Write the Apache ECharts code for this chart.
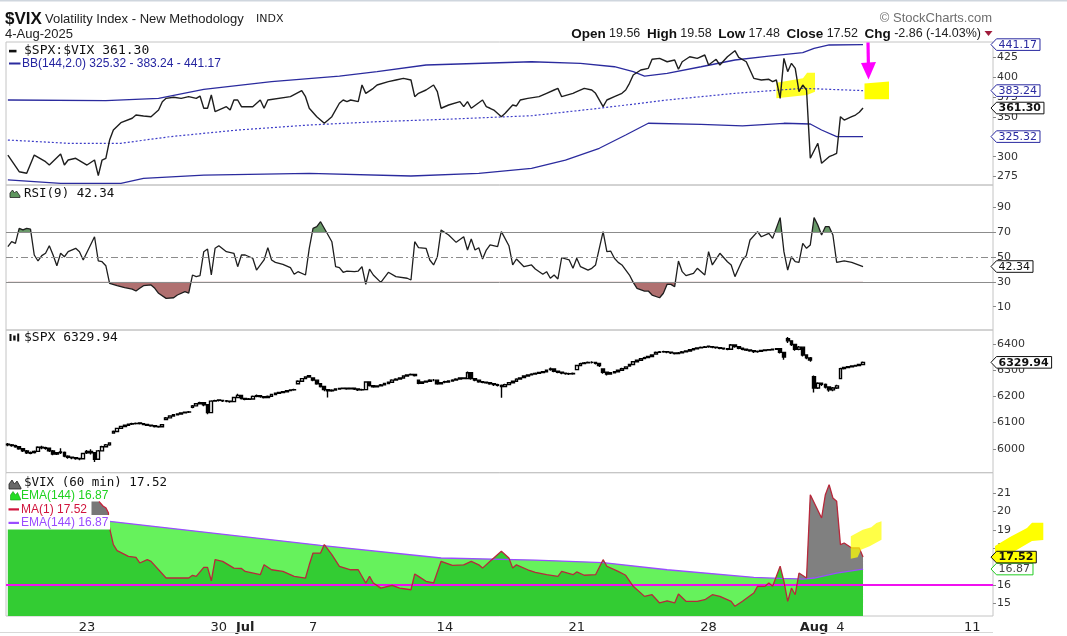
<!DOCTYPE html>
<html><head><meta charset="utf-8">
<script src="https://cdn.jsdelivr.net/npm/echarts@6/dist/echarts.min.js"></script>
<style>html,body{margin:0;padding:0;background:#fff;}#c{width:1067px;height:636px;}</style>
</head><body><div id="c"></div>
<script>
// ---------------- DATA ----------------
const days = ['6/17','6/18','6/20','6/23','6/24','6/25','6/26','6/27','6/30','7/1','7/2','7/3','7/7','7/8','7/9','7/10','7/11','7/14','7/15','7/16','7/17','7/18','7/21','7/22','7/23','7/24','7/25','7/28','7/29','7/30','7/31','8/1','8/4','8/5','8/6','8/7','8/8','8/11'];
const hours = ['09:30','10:30','11:30','12:30','13:30','14:30','15:30'];
const barsOnDay = {'7/3':4,'8/11':6};
const xTickIdx = [21,56,63,81,116,151,186,214,221,256];
const xTickText = ['23','30','Jul','7','14','21','28','Aug','4','11'];
const xTickBold = ['Jul','Aug'];

const ratioTicks = [275,300,325,350,375,400,425];
const rsiTicks = [10,30,50,70,90];
const spxTicks = [6000,6100,6200,6300,6400];
const vixTicks = [15,16,17,18,19,20,21];

// $SPX:$VIX  [bar index, value]
const ratio = [[0,302.1],[3,281.1],[5,279.1],[7,302.1],[10,293.7],[11,289.5],[14,303.4],[15,289.5],[16,295.8],[18,298.0],[21,289.5],[23,295.8],[24,276.1],[25,295.8],[26,298.0],[27,321.0],[28,333.6],[30,342.8],[33,348.4],[34,352.5],[36,351.3],[38,350.4],[40,358.8],[41,369.3],[42,373.5],[44,374.8],[46,373.5],[48,375.6],[50,373.5],[51,376.4],[52,361.0],[53,361.0],[54,377.7],[55,356.7],[58,363.0],[59,358.8],[60,371.4],[61,371.4],[62,363.0],[65,363.0],[67,371.4],[68,361.0],[69,371.4],[75,375.6],[78,383.1],[79,375.6],[80,361.0],[82,350.4],[84,342.1],[85,346.2],[86,350.4],[88,367.3],[89,371.4],[90,369.3],[91,371.4],[93,369.3],[94,390.3],[95,379.8],[97,386.1],[98,390.3],[101,394.5],[103,396.6],[105,398.7],[107,396.6],[108,375.6],[109,379.8],[111,384.0],[113,390.3],[114,381.9],[115,361.0],[117,365.1],[120,369.3],[121,363.0],[122,369.3],[123,361.0],[125,368.0],[126,371.4],[127,363.0],[128,361.0],[129,358.8],[131,350.4],[132,354.7],[134,365.1],[135,363.9],[136,371.4],[138,373.5],[141,375.6],[143,379.8],[145,384.0],[146,386.1],[147,375.6],[150,379.8],[151,381.9],[153,386.1],[155,384.0],[156,379.8],[158,363.0],[159,371.4],[161,375.6],[163,379.8],[164,384.0],[165,392.4],[166,402.9],[168,409.2],[170,411.3],[171,422.7],[173,423.9],[175,419.6],[177,421.8],[178,410.1],[179,419.6],[181,425.9],[183,423.9],[185,428.1],[186,415.5],[188,422.7],[189,415.5],[191,425.9],[193,433.5],[194,425.2],[196,419.6],[198,398.7],[200,396.6],[202,397.5],[203,394.5],[204,396.6],[205,373.5],[206,423.9],[207,407.1],[208,417.6],[209,411.3],[210,381.9],[211,390.3],[212,384.0],[213,298.0],[215,316.9],[216,291.7],[218,300.0],[219,302.0],[220,304.3],[221,350.4],[222,346.2],[224,350.4],[225,352.5],[226,356.0],[227,361.30]];
const bbUpper = [[0,371.4],[26,370.5],[40,373.5],[52,384.9],[70,394.5],[88,401.6],[98,407.1],[111,415.5],[139,419.6],[152,417.6],[161,413.3],[166,407.1],[169,401.6],[175,405.0],[184,413.3],[193,421.8],[202,426.8],[211,431.0],[214,436.5],[218,440.7],[227,441.17]];
const bbMid = [[0,321.0],[16,316.9],[30,316.9],[43,325.2],[61,333.6],[80,339.9],[98,344.1],[116,347.1],[139,351.6],[157,361.0],[175,371.4],[193,379.8],[211,386.1],[227,383.24]];
const bbLower = [[0,270.7],[14,266.5],[30,266.5],[36,272.8],[52,276.9],[80,279.1],[107,275.7],[125,279.1],[139,285.4],[148,295.8],[157,310.6],[164,327.3],[170,342.1],[184,340.8],[195,338.7],[206,342.1],[213,341.2],[216,333.6],[220,325.2],[227,325.32]];

// RSI(9)
const rsi = [[0,58.3],[1,62.3],[2,61.0],[3,73.1],[4,71.8],[5,73.1],[6,72.5],[7,51.6],[8,46.8],[9,51.1],[10,53.0],[11,59.1],[12,51.6],[13,43.0],[14,53.0],[15,50.2],[16,54.3],[18,57.0],[19,54.3],[20,47.6],[23,66.3],[24,46.8],[25,46.2],[26,43.0],[27,28.8],[29,26.9],[31,25.3],[32,24.8],[33,24.2],[34,22.6],[35,24.8],[36,26.9],[38,27.5],[39,24.8],[40,20.8],[42,16.7],[44,17.2],[45,19.4],[47,22.1],[48,21.0],[49,35.5],[50,34.2],[51,35.0],[52,54.3],[53,56.4],[54,35.5],[55,57.0],[56,59.1],[58,54.3],[60,53.0],[61,42.2],[62,51.6],[63,51.6],[65,49.0],[66,39.5],[68,47.6],[69,57.5],[70,47.6],[71,45.7],[73,44.1],[75,41.4],[76,36.1],[77,38.2],[79,35.5],[80,57.0],[81,73.1],[82,74.4],[83,78.4],[85,67.7],[86,62.3],[87,42.2],[88,41.4],[89,37.7],[90,38.7],[92,38.2],[93,38.7],[94,42.2],[95,28.0],[96,40.3],[97,35.5],[99,29.6],[101,37.7],[103,34.2],[106,32.9],[107,31.5],[108,62.3],[109,57.5],[111,57.0],[112,47.6],[113,43.6],[114,50.2],[115,71.8],[117,67.7],[119,61.8],[121,66.3],[122,55.6],[123,64.5],[124,55.6],[125,57.5],[126,48.4],[127,55.6],[128,59.7],[130,58.3],[131,70.4],[133,59.1],[134,43.6],[135,48.4],[137,42.2],[139,43.6],[140,40.3],[142,36.1],[143,38.2],[144,32.9],[145,35.5],[146,32.3],[147,49.4],[149,47.6],[150,40.9],[151,49.0],[152,42.2],[154,39.5],[155,40.9],[156,43.6],[158,70.4],[159,54.3],[160,54.8],[161,49.0],[162,45.7],[163,43.6],[165,35.5],[166,29.6],[167,24.8],[169,22.6],[170,22.6],[171,19.4],[173,17.2],[174,20.8],[175,28.0],[176,28.0],[177,26.1],[178,46.8],[179,38.2],[180,35.0],[182,36.9],[183,40.9],[185,35.5],[186,54.3],[187,43.6],[189,53.0],[191,46.2],[192,43.6],[193,34.2],[194,40.9],[195,47.6],[196,51.1],[197,63.7],[199,70.4],[200,66.3],[202,69.0],[203,65.0],[205,81.7],[206,54.3],[207,39.5],[208,50.2],[209,46.2],[210,45.7],[211,61.0],[212,57.0],[213,59.7],[214,81.7],[215,75.7],[216,67.7],[217,74.4],[218,74.4],[219,67.7],[220,45.7],[222,46.8],[224,45.7],[227,42.34]];

// $SPX hourly candles [open, close, low, high]
const spx = [
[6018,6015,6010,6022],[6015,6012,6008,6018],[6012,6008,6004,6015],[6008,6000,5996,6010],[6000,5992,5988,6003],[5992,5985,5980,5995],[5985,5983,5979,5990],
[5986,5990,5982,5994],[5990,6006,5988,6010],[6006,6004,5998,6012],[6004,6002,5996,6008],[6002,5992,5988,6004],[5992,5980,5975,5995],[5980,5985,5976,5988],
[5988,5986,5980,6002],[5986,5972,5968,5990],[5972,5968,5962,5975],[5968,5966,5960,5970],[5966,5963,5958,5968],[5963,5962,5956,5966],[5962,5982,5960,5985],
[5985,5990,5980,5995],[5990,5985,5978,5998],[5985,5960,5950,5988],[5960,5992,5958,5995],[5992,6008,5990,6012],[6008,6015,6005,6018],[6015,6022,6012,6025],
[6060,6066,6058,6070],[6066,6078,6064,6080],[6078,6085,6076,6088],[6085,6090,6082,6092],[6090,6094,6088,6097],[6094,6096,6091,6099],[6096,6097,6093,6100],
[6099,6096,6093,6101],[6096,6093,6090,6098],[6093,6090,6087,6095],[6090,6088,6084,6092],[6088,6085,6081,6090],[6085,6084,6080,6088],[6084,6092,6082,6094],
[6112,6118,6110,6121],[6118,6125,6116,6127],[6125,6130,6123,6132],[6130,6133,6128,6135],[6133,6137,6131,6139],[6137,6140,6135,6142],[6140,6141,6137,6144],
[6158,6164,6155,6167],[6164,6172,6162,6175],[6172,6176,6170,6180],[6176,6168,6162,6178],[6168,6138,6132,6170],[6138,6182,6136,6185],[6182,6184,6180,6187],
[6186,6185,6181,6189],[6185,6183,6179,6187],[6183,6182,6178,6186],[6182,6180,6176,6184],[6180,6196,6178,6199],[6196,6204,6194,6210],[6204,6192,6188,6206],
[6192,6189,6185,6195],[6189,6190,6186,6194],[6190,6200,6188,6203],[6200,6203,6197,6207],[6203,6199,6195,6205],[6199,6196,6192,6201],[6196,6200,6194,6203],
[6200,6207,6198,6210],[6207,6212,6205,6214],[6212,6215,6210,6217],[6215,6218,6213,6220],[6218,6222,6216,6224],[6222,6225,6220,6227],[6225,6226,6222,6229],
[6248,6258,6246,6262],[6258,6268,6256,6270],[6268,6274,6266,6277],[6274,6279,6272,6281],
[6270,6262,6258,6272],[6262,6248,6244,6264],[6248,6238,6234,6250],[6238,6226,6220,6240],[6226,6221,6196,6228],[6221,6224,6218,6227],[6224,6228,6222,6231],
[6228,6230,6225,6233],[6230,6231,6227,6234],[6231,6229,6225,6234],[6229,6231,6226,6234],[6231,6228,6224,6233],[6228,6225,6221,6230],[6225,6226,6222,6229],
[6226,6255,6224,6258],[6255,6241,6238,6257],[6241,6237,6233,6243],[6237,6240,6235,6243],[6240,6244,6238,6247],[6244,6249,6242,6252],[6249,6254,6247,6257],
[6254,6262,6252,6265],[6262,6266,6260,6269],[6266,6270,6264,6273],[6270,6278,6268,6281],[6278,6282,6276,6285],[6282,6284,6280,6287],[6284,6280,6276,6286],
[6262,6250,6246,6264],[6250,6255,6247,6258],[6255,6258,6252,6261],[6258,6262,6256,6265],[6262,6262,6258,6266],[6262,6248,6244,6264],[6248,6252,6245,6255],
[6256,6255,6250,6260],[6255,6259,6253,6262],[6259,6262,6257,6265],[6262,6266,6260,6269],[6266,6270,6264,6273],[6270,6268,6265,6273],[6268,6290,6266,6295],
[6290,6268,6264,6292],[6268,6262,6258,6270],[6262,6256,6252,6264],[6256,6254,6250,6258],[6254,6252,6248,6257],[6252,6248,6244,6254],[6248,6245,6240,6250],
[6245,6242,6238,6248],[6242,6238,6195,6245],[6238,6245,6235,6248],[6245,6252,6243,6255],[6252,6258,6250,6261],[6258,6266,6256,6269],[6266,6270,6264,6273],
[6272,6278,6270,6281],[6278,6282,6276,6285],[6282,6285,6280,6288],[6285,6288,6283,6291],[6288,6291,6286,6294],[6291,6294,6289,6297],[6294,6300,6292,6303],
[6302,6305,6298,6310],[6305,6296,6292,6307],[6296,6292,6288,6298],[6292,6289,6285,6294],[6289,6287,6283,6291],[6287,6286,6282,6290],[6286,6288,6283,6291],
[6302,6318,6300,6321],[6318,6325,6316,6328],[6325,6328,6323,6331],[6328,6330,6326,6333],[6330,6330,6326,6334],[6330,6326,6322,6332],[6326,6318,6312,6328],
[6305,6292,6286,6307],[6292,6285,6280,6294],[6285,6290,6283,6293],[6290,6294,6288,6297],[6294,6300,6292,6303],[6300,6306,6298,6309],[6306,6312,6304,6315],
[6316,6322,6314,6325],[6322,6332,6320,6335],[6332,6338,6330,6341],[6338,6344,6336,6347],[6344,6348,6342,6351],[6348,6352,6346,6355],[6352,6358,6350,6361],
[6362,6368,6360,6371],[6368,6370,6366,6373],[6370,6371,6367,6374],[6371,6369,6365,6373],[6369,6366,6362,6371],[6366,6364,6360,6368],[6364,6366,6361,6369],
[6366,6370,6364,6373],[6370,6373,6368,6376],[6373,6378,6371,6381],[6378,6382,6376,6385],[6382,6385,6380,6388],[6385,6387,6383,6390],[6387,6389,6385,6392],
[6392,6390,6386,6394],[6390,6388,6384,6392],[6388,6386,6382,6390],[6386,6384,6380,6388],[6384,6382,6378,6386],[6382,6380,6376,6384],[6380,6396,6378,6400],
[6396,6390,6386,6399],[6390,6384,6380,6392],[6384,6380,6376,6386],[6380,6377,6373,6382],[6377,6374,6370,6379],[6374,6371,6366,6376],[6371,6372,6367,6375],
[6372,6375,6369,6378],[6375,6377,6372,6380],[6377,6378,6374,6381],[6378,6380,6375,6383],[6380,6382,6377,6385],[6382,6368,6364,6384],[6368,6350,6340,6370],
[6420,6412,6404,6427],[6412,6398,6392,6414],[6398,6380,6374,6400],[6380,6388,6376,6392],[6388,6358,6352,6390],[6358,6347,6342,6360],[6347,6339,6332,6350],
[6275,6232,6215,6280],[6232,6250,6228,6254],[6250,6246,6240,6253],[6246,6236,6230,6249],[6236,6225,6218,6239],[6225,6232,6220,6236],[6232,6240,6228,6244],
[6268,6306,6265,6309],[6306,6310,6303,6313],[6310,6313,6308,6316],[6313,6316,6311,6319],[6316,6318,6313,6321],[6318,6322,6315,6325],[6322,6329.94,6319,6333]
];

// $VIX (60 min) MA(1) and EMA(144)
const vix = [[0,19.9],[3,21.3],[5,21.4],[7,19.8],[10,20.4],[11,20.6],[14,19.7],[15,20.6],[18,20.0],[21,20.7],[23,20.2],[24,21.6],[25,20.3],[26,20.1],[27,19.1],[28,18.2],[29,17.87],[32,17.56],[34,17.51],[35,17.20],[37,17.38],[38,17.29],[42,16.38],[48,16.38],[49,16.53],[50,16.47],[52,16.96],[53,16.96],[54,16.23],[55,17.38],[57,17.29],[60,16.92],[62,16.90],[63,16.74],[67,16.56],[68,17.10],[70,16.83],[73,16.74],[76,16.47],[79,16.38],[80,17.10],[81,17.74],[83,17.74],[84,18.20],[86,17.65],[88,17.02],[91,16.83],[93,16.83],[95,16.11],[96,16.47],[97,16.11],[99,15.83],[102,15.98],[104,15.83],[107,15.74],[108,16.60],[109,16.47],[111,16.20],[113,16.11],[115,17.29],[118,17.07],[121,17.10],[123,17.29],[125,17.10],[126,16.92],[128,17.29],[131,17.84],[133,17.47],[134,16.92],[135,17.10],[138,16.83],[140,16.69],[143,16.56],[146,16.47],[147,16.74],[150,16.56],[151,16.71],[153,16.53],[156,16.56],[158,17.38],[159,17.02],[162,16.74],[164,16.53],[166,15.93],[169,15.38],[171,15.47],[173,15.02],[175,15.14],[177,15.02],[178,15.51],[180,15.11],[183,15.11],[185,15.20],[187,15.47],[189,15.38],[192,15.11],[193,14.84],[195,15.11],[198,15.56],[199,15.93],[201,15.93],[202,16.11],[203,15.93],[205,17.02],[206,16.20],[207,15.11],[208,15.83],[209,15.47],[210,16.65],[212,16.38],[213,20.92],[216,19.65],[217,20.92],[218,21.47],[219,20.74],[220,20.56],[221,18.20],[222,18.29],[224,18.02],[226,18.02],[227,17.52]];
const ema = [[0,19.85],[27,19.47],[83,18.16],[115,17.47],[140,17.36],[158,17.22],[175,16.83],[198,16.42],[205,16.36],[210,16.33],[211,16.32],[214,16.38],[220,16.65],[227,16.87]];
const vixAboveEma = [210,227];   // bar range where MA(1) is above EMA(144)
const vixThreshold = 16;

// ---------------- CHART ----------------
const cats = [];
days.forEach(d => { const n = barsOnDay[d] || 7; for (let h = 0; h < n; h++) cats.push(d + ' ' + hours[h]); });
const tickMap = {}; xTickIdx.forEach((k, i) => tickMap[k] = xTickText[i]);

const GL = 6, GW = 987;
const P = [{top:42,h:143},{top:185,h:145},{top:330,h:142.7},{top:472.7,h:143.3}];
const R = [[264.36,444.46],[-8.75,107.95],[5908.8,6453.4],[14.31,22.12]];
const y70 = P[1].top + (R[1][1]-70)/(R[1][1]-R[1][0])*P[1].h;
const y30 = P[1].top + (R[1][1]-30)/(R[1][1]-R[1][0])*P[1].h;
const grids = P.map(p => ({left:GL, width:GW, top:p.top, height:p.h, show:true, borderColor:'#c4c4c4', borderWidth:1}));
grids.push({left:GL, width:GW, top:P[1].top, height:y70-P[1].top});
grids.push({left:GL, width:GW, top:y30, height:P[1].top+P[1].h-y30});

const F = "'DejaVu Sans', sans-serif";
const xAxes = grids.map((g, i) => ({
  type:'category', gridIndex:i, data:cats, boundaryGap:true,
  axisLine:{show:false}, axisTick:{show:false}, splitLine:{show:false},
  axisLabel: i === 3 ? {
    show:true, margin:5, interval:(idx) => tickMap[idx] !== undefined,
    formatter:(v, idx) => { const t = tickMap[idx]; return xTickBold.includes(t) ? '{b|' + t + '}' : '{n|' + t + '}'; },
    rich:{ b:{fontFamily:F, fontSize:13, fontWeight:'bold', color:'#222'}, n:{fontFamily:F, fontSize:13, color:'#222'} }
  } : {show:false}
}));
function yAx(gi, range, ticks) {
  const show = !!ticks;
  return {type:'value', gridIndex:gi, position:'right', min:range[0], max:range[1],
    axisLine:{show:false}, splitLine:{show:false},
    axisTick:{show:show, length:3, lineStyle:{color:'#8a8a8a'}, customValues:ticks || []},
    axisLabel:{show:show, customValues:ticks || [], margin:4, color:'#333', fontFamily:F, fontSize:11, formatter:(v) => String(Math.round(v))}};
}
const yAxes = [yAx(0,R[0],ratioTicks), yAx(1,R[1],rsiTicks), yAx(2,R[2],spxTicks), yAx(3,R[3],vixTicks),
  yAx(4,[70,R[1][1]],null), yAx(5,[R[1][0],30],null)];

const inRange = d => d[0] >= vixAboveEma[0] && d[0] <= vixAboveEma[1];
const L = (xi, data, ls, extra) => Object.assign({type:'line', xAxisIndex:xi, yAxisIndex:xi, data:data, showSymbol:false, silent:true, animation:false, lineStyle:ls}, extra || {});
const noLine = {width:0, opacity:0};

const series = [
  L(0, bbUpper, {color:'#2b2b9e', width:1.3}, {z:3}),
  L(0, bbLower, {color:'#2b2b9e', width:1.3}, {z:3}),
  L(0, bbMid, {color:'#3c3cc8', width:1.2, type:[2,2]}, {z:3}),
  L(0, ratio, {color:'#1e1e1e', width:1.4}, {z:4}),
  L(4, rsi, noLine, {areaStyle:{color:'#6a9a6a', origin:'start', opacity:1}, z:1}),
  L(5, rsi, noLine, {areaStyle:{color:'#b07070', origin:'end', opacity:1}, z:1}),
  L(1, rsi, {color:'#1e1e1e', width:1.3}, {z:4, markLine:{silent:true, symbol:'none', animation:false, label:{show:false},
     data:[{yAxis:70, lineStyle:{color:'#8c8c8c', width:1, type:'solid'}},
           {yAxis:50, lineStyle:{color:'#8c8c8c', width:1, type:[7,3,2,3]}},
           {yAxis:30, lineStyle:{color:'#8c8c8c', width:1, type:'solid'}}]}}),
  {type:'candlestick', xAxisIndex:2, yAxisIndex:2, data:spx, barWidth:3.2, silent:true, animation:false,
   itemStyle:{color:'#ffffff', color0:'#000000', borderColor:'#000000', borderColor0:'#000000', borderWidth:1.4}},
  L(3, ema, noLine, {areaStyle:{color:'#66f25c', origin:'start', opacity:1}, z:1}),
  L(3, vix, noLine, {areaStyle:{color:'#33cc33', origin:'start', opacity:1}, z:2}),
  L(3, vix.filter(inRange), noLine, {areaStyle:{color:'#808080', origin:'start', opacity:1}, z:3}),
  L(3, ema.filter(inRange), noLine, {areaStyle:{color:'#33cc33', origin:'start', opacity:1}, z:4}),
  L(3, ema, {color:'#9a4dff', width:1.3}, {z:5, markLine:{silent:true, symbol:'none', animation:false, label:{show:false},
     data:[{yAxis:vixThreshold, lineStyle:{color:'#f010f0', width:2, type:'solid'}}]}}),
  L(3, vix, {color:'#b8283c', width:1.3}, {z:6})
];

const chart = echarts.init(document.getElementById('c'), null, {renderer:'canvas', width:1067, height:636});
chart.setOption({animation:false, backgroundColor:'#ffffff', grid:grids, xAxis:xAxes, yAxis:yAxes, series:series});

// ---------------- GRAPHICS (texts, legends, tags, annotations) ----------------
const LS = "'Liberation Sans', Arial, sans-serif", MONO = "'DejaVu Sans Mono', monospace";
const g = [];
const T = (x, y, text, font, fill, align, extra) => g.push(Object.assign({type:'text', x:x, y:y, z:60, silent:true,
  style:{text:text, font:font, fill:fill, align:align || 'left', verticalAlign:'middle'}}, extra || {}));
const poly = (pts, fill, stroke, lw, z) => g.push({type:'polygon', z:z || 60, silent:true, shape:{points:pts}, style:{fill:fill, stroke:stroke || null, lineWidth:lw || 0}});
const pline = (pts, stroke, lw, z) => g.push({type:'polyline', z:z || 60, silent:true, shape:{points:pts}, style:{stroke:stroke, lineWidth:lw, fill:null}});
const rect = (x, y, w, h, fill, z) => g.push({type:'rect', z:z || 60, silent:true, shape:{x:x, y:y, width:w, height:h}, style:{fill:fill}});

// frame lines
rect(0, 0, 1067, 1.5, '#cfd6de', 60);
rect(0, 632, 993, 1, '#d8d8d8', 60);

// header
T(5, 19, '$VIX', "bold 17px " + LS, '#111');
T(45, 19.5, 'Volatility Index - New Methodology', "13px " + LS, '#222');
T(256, 19.5, 'INDX', "11px " + F, '#222');
T(5, 34, '4-Aug-2025', "13px " + LS, '#222');
T(992, 18, '\u00a9 StockCharts.com', "13px " + LS, '#6e6e6e', 'right');
g.push({type:'text', x:981, y:34, z:60, silent:true, style:{
  text:'{b|Open} {v|19.56}  {b|High} {v|19.58}  {b|Low} {v|17.48}  {b|Close} {v|17.52}  {b|Chg} {v|-2.86 (-14.03%)}',
  align:'right', verticalAlign:'middle',
  rich:{b:{font:"bold 13.5px " + LS, fill:'#111'}, v:{font:"12.5px " + LS, fill:'#222'}}}});
poly([[984.5,31],[992.5,31],[988.5,36]], '#a01c3c');

// panel 1 legend
rect(9, 49.8, 7.5, 2.6, '#111');
T(24, 51, '$SPX:$VIX ' + ratio[ratio.length-1][1].toFixed(2), "13px " + MONO, '#111');
rect(9, 62.5, 11.5, 2, '#2b2b9e');
T(22, 64, 'BB(144,2.0) ' + bbLower[bbLower.length-1][1].toFixed(2) + ' - ' + bbMid[bbMid.length-1][1].toFixed(2) + ' - ' + bbUpper[bbUpper.length-1][1].toFixed(2), "12px " + LS, '#2424a0');

// panel 2 legend
poly([[10,197.5],[10,193],[12.5,190],[14.5,193],[16.5,191],[20,196],[20,197.5]], '#5f965f', '#222', 0.8);
T(24, 194, 'RSI(9) ' + rsi[rsi.length-1][1].toFixed(2), "12.5px " + MONO, '#111');

// panel 3 legend
rect(9.5, 334, 2, 7, '#111'); rect(13.2, 335.5, 2.4, 5, '#111'); rect(17.2, 333.5, 2, 8, '#111');
T(24, 337.5, '$SPX ' + spx[spx.length-1][1].toFixed(2), "13px " + MONO, '#111');

// panel 4 legend (white box hides the lines behind it)
rect(6.5, 473.5, 103.5, 56, '#ffffff', 50);
poly([[9,489],[9,484],[12,480],[14.5,484],[17,481],[21,488],[21,489]], '#6a6a6a', '#222', 0.8);
T(24, 483, '$VIX (60 min) ' + vix[vix.length-1][1].toFixed(2), "12.5px " + MONO, '#111');
poly([[10.5,500],[10.5,495],[13,491.5],[15.5,495],[17.5,492.5],[20.5,499],[20.5,500]], '#22dd22', '#139913', 0.6);
T(21, 495.5, 'EMA(144) ' + ema[ema.length-1][1].toFixed(2), "12px " + LS, '#1fd21f');
rect(8.5, 508.3, 10.5, 2.2, '#d0143c');
T(21, 509.3, 'MA(1) ' + vix[vix.length-1][1].toFixed(2), "12px " + LS, '#d0143c');
poly([[91.5,501.5],[99,501.5],[103,506],[106,508],[108.5,513],[108.5,515],[91.5,515]], '#777777');
pline([[99,501.5],[103,506],[106,508],[108.5,513],[108.5,515]], '#c8203a', 1.2);
rect(8.5, 521.8, 10.5, 2.2, '#9a4dff');
T(21, 522.8, 'EMA(144) ' + ema[ema.length-1][1].toFixed(2), "12px " + LS, '#9a4dff');

// annotations: yellow highlights, magenta arrow
poly([[776.4,82.7],[803,78.3],[807.1,72.7],[815,72.7],[815,91.7],[807,95],[776.4,98.3]], 'rgba(255,255,0,0.85)', null, 0, 1);
poly([[864.5,83.5],[889,81.5],[889,99.3],[864.5,99.3]], '#ffff00', null, 0, 1);
pline([[868,42.5],[868.5,70]], '#ff00ff', 3.2, 100);
poly([[861,63],[876,62],[868.5,79.5]], '#ff00ff', null, 0, 100);
poly([[850.8,558.7],[850.8,536.3],[862.8,529.7],[871.3,527.3],[876.4,523],[881.5,521.3],[881.5,539.7],[869.6,546.3],[861,549.7],[857.6,557.3]], 'rgba(255,255,0,0.72)', null, 0, 100);
poly([[995,553],[995,546],[1010,537],[1027,528],[1032,522.7],[1043.3,522.7],[1043.3,540],[1032,541],[1020,548],[1010,554]], '#ffff00', null, 0, 100);

// value tags on the right axis
const ctx = document.createElement('canvas').getContext('2d');
function tag(axis, value, bold, stroke, textColor, bg) {
  const y = chart.convertToPixel({yAxisIndex:axis}, value);
  const txt = value.toFixed(2);
  const font = (bold ? 'bold ' : '') + '11px ' + F;
  ctx.font = font;
  const w = ctx.measureText(txt).width + 5;
  poly([[991,y],[996.5,y-5.8],[996.5+w,y-5.8],[996.5+w,y+5.8],[996.5,y+5.8]], bg || '#ffffff', stroke, 1, 110);
  g.push({type:'text', x:998.5, y:y+0.5, z:111, silent:true, style:{text:txt, font:font, fill:textColor, align:'left', verticalAlign:'middle'}});
}
const blue = '#2a2aa0';
tag(0, bbUpper[bbUpper.length-1][1], false, blue, blue);
tag(0, bbMid[bbMid.length-1][1], false, blue, blue);
tag(0, ratio[ratio.length-1][1], true, '#111', '#111');
tag(0, bbLower[bbLower.length-1][1], false, blue, blue);
tag(1, rsi[rsi.length-1][1], false, '#111', '#111');
tag(2, spx[spx.length-1][1], true, '#111', '#111');
tag(3, ema[ema.length-1][1], false, '#22cc22', '#444');
tag(3, vix[vix.length-1][1], true, '#111', '#111', '#ffff00');

chart.setOption({graphic:{elements:g}});
</script>
</body></html>
